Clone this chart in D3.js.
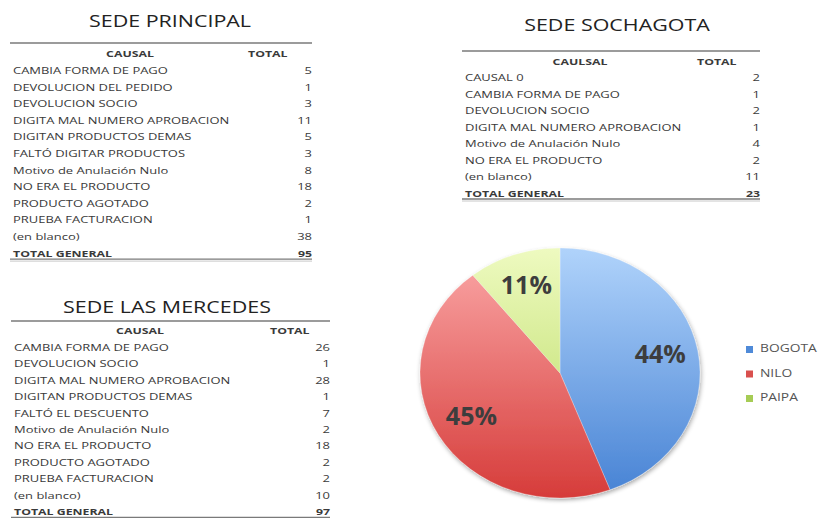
<!DOCTYPE html>
<html><head><meta charset="utf-8">
<script src="https://cdn.jsdelivr.net/npm/d3@7"></script>
<style>body{margin:0;background:#fff}svg{display:block}</style>
</head><body>
<svg id="c" width="820" height="518"></svg>
<script>
// ---- data ----
const principalCausas = ["CAMBIA FORMA DE PAGO","DEVOLUCION DEL PEDIDO","DEVOLUCION SOCIO","DIGITA MAL NUMERO APROBACION","DIGITAN PRODUCTOS DEMAS","FALTÓ DIGITAR PRODUCTOS","Motivo de Anulación Nulo","NO ERA EL PRODUCTO","PRODUCTO AGOTADO","PRUEBA FACTURACION","(en blanco)"];
const principalTotales = [5,1,3,11,5,3,8,18,2,1,38];
const principalGeneral = 95;

const mercedesCausas = ["CAMBIA FORMA DE PAGO","DEVOLUCION SOCIO","DIGITA MAL NUMERO APROBACION","DIGITAN PRODUCTOS DEMAS","FALTÓ EL DESCUENTO","Motivo de Anulación Nulo","NO ERA EL PRODUCTO","PRODUCTO AGOTADO","PRUEBA FACTURACION","(en blanco)"];
const mercedesTotales = [26,1,28,1,7,2,18,2,2,10];
const mercedesGeneral = 97;

const sochagotaCausas = ["CAUSAL 0","CAMBIA FORMA DE PAGO","DEVOLUCION SOCIO","DIGITA MAL NUMERO APROBACION","Motivo de Anulación Nulo","NO ERA EL PRODUCTO","(en blanco)"];
const sochagotaTotales = [2,1,2,1,4,2,11];
const sochagotaGeneral = 23;

const pieLabels = ["BOGOTA","NILO","PAIPA"];
const pieValues = [95,97,23];

// ---- drawing ----
const svg = d3.select("#c");
const FONT = "'Open Sans', 'DejaVu Sans', sans-serif";
const SX = 1.35;
const SXB = 1.37;
const txtColor = "#3a3a3a";

function txt(g, x, y, s, opt) {
  opt = opt || {};
  return g.append("text")
    .attr("transform", `translate(${x},${y}) scale(${opt.sx || SX},1)`)
    .attr("text-anchor", opt.anchor || "start")
    .attr("font-family", FONT)
    .attr("font-size", opt.size || 9.6)
    .attr("font-weight", opt.bold ? "bold" : "normal")
    .attr("fill", opt.fill || txtColor)
    .text(s);
}

function table(cfg) {
  const g = svg.append("g");
  txt(g, cfg.titleX, cfg.titleY, cfg.title, {anchor:"middle", size:16.5, sx:1.3, fill:"#222"});
  g.append("line").attr("x1", cfg.x0).attr("x2", cfg.x1).attr("y1", cfg.lineY).attr("y2", cfg.lineY)
    .attr("stroke", "#7a7a7a").attr("stroke-width", 1.6);
  txt(g, cfg.headX, cfg.headY, cfg.head, {anchor:"middle", bold:true, size:9, sx:SXB});
  txt(g, cfg.totX, cfg.headY, "TOTAL", {bold:true, size:9, sx:SXB});
  const y = d3.scaleLinear().domain([0, 1]).range([cfg.row0, cfg.row0 + cfg.step]);
  cfg.causas.forEach((c, i) => {
    txt(g, cfg.x0 + 3, y(i), c);
    txt(g, cfg.x1, y(i), String(cfg.totales[i]), {anchor:"end"});
  });
  const n = cfg.causas.length;
  txt(g, cfg.x0 + 3, y(n), "TOTAL GENERAL", {bold:true, size:9, sx:SXB});
  txt(g, cfg.x1, y(n), String(cfg.general), {anchor:"end", bold:true, size:9, sx:SXB});
  const ly = y(n) + 2.5;
  g.append("line").attr("x1", cfg.x0).attr("x2", cfg.x1).attr("y1", ly).attr("y2", ly)
    .attr("stroke", "#7a7a7a").attr("stroke-width", 1.4);
  g.append("line").attr("x1", cfg.x0).attr("x2", cfg.x1).attr("y1", ly + 2).attr("y2", ly + 2)
    .attr("stroke", "#c8c8c8").attr("stroke-width", 1);
}

table({title:"SEDE PRINCIPAL", titleX:170, titleY:27, x0:10, x1:312, lineY:43,
  head:"CAUSAL", headX:130, headY:57, totX:248, row0:74, step:16.6,
  causas:principalCausas, totales:principalTotales, general:principalGeneral});

table({title:"SEDE LAS MERCEDES", titleX:167, titleY:313, x0:11, x1:330, lineY:321,
  head:"CAUSAL", headX:140, headY:334, totX:270, row0:351, step:16.4,
  causas:mercedesCausas, totales:mercedesTotales, general:mercedesGeneral});

table({title:"SEDE SOCHAGOTA", titleX:617, titleY:31, x0:462, x1:760, lineY:51,
  head:"CAULSAL", headX:580, headY:65, totX:697, row0:81, step:16.5,
  causas:sochagotaCausas, totales:sochagotaTotales, general:sochagotaGeneral});

// ---- pie ----
const cx = 560, cy = 373, r = 140, ky = 0.893;
const defs = svg.append("defs");
const grads = [
  ["gB", "#b0d3fb", "#4682d4"],
  ["gN", "#fba8a8", "#d63c3a"],
  ["gP", "#eefac0", "#b4d85a"]
];
grads.forEach(([id, c1, c2]) => {
  const lg = defs.append("linearGradient").attr("id", id)
    .attr("gradientUnits", "userSpaceOnUse")
    .attr("x1", 0).attr("y1", -r).attr("x2", 0).attr("y2", r);
  lg.append("stop").attr("offset", "0%").attr("stop-color", c1);
  lg.append("stop").attr("offset", "100%").attr("stop-color", c2);
});
const filt = defs.append("filter").attr("id", "sh").attr("x", "-20%").attr("y", "-20%").attr("width", "140%").attr("height", "140%");
filt.append("feGaussianBlur").attr("in", "SourceAlpha").attr("stdDeviation", 2.5).attr("result", "b");
filt.append("feOffset").attr("in", "b").attr("dx", 1).attr("dy", 2).attr("result", "o");
filt.append("feComponentTransfer").attr("in", "o").attr("result", "o2")
  .append("feFuncA").attr("type", "linear").attr("slope", 0.35);
const fm = filt.append("feMerge");
fm.append("feMergeNode").attr("in", "o2");
fm.append("feMergeNode").attr("in", "SourceGraphic");

const color = d3.scaleOrdinal().domain(pieLabels).range(["url(#gB)", "url(#gN)", "url(#gP)"]);
const legendColor = d3.scaleOrdinal().domain(pieLabels).range(["#4f8ad8", "#d9504e", "#a6cc55"]);
const pie = d3.pie().sort(null).value(d => d)(pieValues);
const arc = d3.arc().innerRadius(0).outerRadius(r);
const labelArc = d3.arc().innerRadius(102).outerRadius(102);

const pg = svg.append("g").attr("transform", `translate(${cx},${cy}) scale(1,${ky})`).attr("filter", "url(#sh)");
pg.selectAll("path").data(pie).join("path")
  .attr("d", arc)
  .attr("fill", (d, i) => color(pieLabels[i]))
  .attr("stroke", "rgba(255,255,255,0.35)").attr("stroke-width", 0.8);

const total = d3.sum(pieValues);
svg.append("g").selectAll("text").data(pie).join("text")
  .attr("x", d => cx + labelArc.centroid(d)[0])
  .attr("y", d => cy + labelArc.centroid(d)[1] * ky + 7)
  .attr("text-anchor", "middle")
  .attr("font-family", "'Open Sans', 'DejaVu Sans', sans-serif")
  .attr("font-weight", "bold").attr("font-size", 25)
  .attr("fill", "#3d3d3d")
  .text(d => Math.round(d.value / total * 100) + "%");

// legend
const lgG = svg.append("g");
const ly = d3.scaleBand().domain(pieLabels).range([336.75, 410.25]);
pieLabels.forEach(k => {
  const y0 = ly(k) + ly.bandwidth() / 2;
  lgG.append("rect").attr("x", 746).attr("y", y0 - 3).attr("width", 7).attr("height", 7)
    .attr("fill", legendColor(k));
  lgG.append("text").attr("x", 760).attr("y", y0 + 3.5)
    .attr("font-family", FONT).attr("font-size", 10).attr("fill", "#555")
    .attr("transform", `translate(${760},0) scale(1.38,1) translate(${-760},0)`)
    .text(k);
});
</script>
</body></html>
